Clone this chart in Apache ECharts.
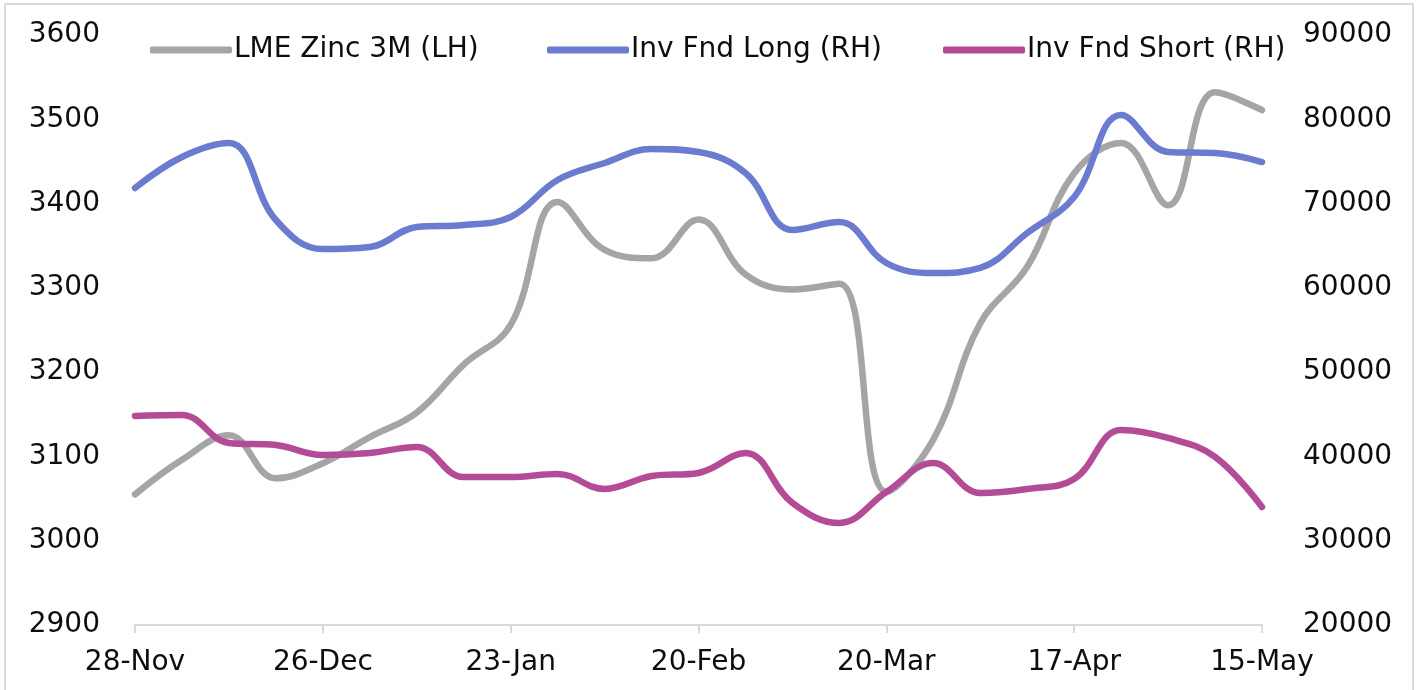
<!DOCTYPE html>
<html>
<head>
<meta charset="utf-8">
<script src="https://cdn.jsdelivr.net/npm/echarts@6/dist/echarts.min.js"></script>
<style>
  html, body { margin: 0; padding: 0; background: #ffffff; }
  #chart { width: 1422px; height: 690px; }
</style>
</head>
<body>
<div id="chart"></div>
<script>
const categories = ["28-Nov","5-Dec","12-Dec","19-Dec","26-Dec","2-Jan","9-Jan","16-Jan","23-Jan","30-Jan","6-Feb","13-Feb","20-Feb","27-Feb","6-Mar","13-Mar","20-Mar","27-Mar","3-Apr","10-Apr","17-Apr","24-Apr","1-May","8-May","15-May"];
const zinc3M = [3055,3096,3125,3074,3092,3123,3152,3209,3256,3402,3345,3335,3381,3316,3298,3305,3058,3120,3258,3325,3436,3472,3398,3532,3511];
const invFndLong = [71850,75530,77190,68050,64610,64850,67220,67460,68410,72800,74810,76480,76120,73630,66870,67810,62950,61760,62360,66510,70780,80510,76120,76000,74930];
const invFndShort = [44800,44920,41600,41360,40170,40410,41120,37560,37560,37920,36140,37680,38040,40410,34480,32100,35780,39220,35660,36140,37320,43140,42190,39950,34000];
const leftTicks = { min: 2900, max: 3600, interval: 100 };
const rightTicks = { min: 20000, max: 90000, interval: 10000 };
const names = ["LME Zinc 3M (LH)", "Inv Fnd Long (RH)", "Inv Fnd Short (RH)"];
const colors = ["#A5A5A5", "#6B7BCF", "#B34B97"];

const FONT = "DejaVu Sans";
const FS = 28;
const chart = echarts.init(document.getElementById('chart'), null, { renderer: 'canvas' });

function legendFor(i, left) {
  return {
    left: left, top: 31,
    data: [names[i]],
    icon: 'roundRect',
    itemWidth: 82, itemHeight: 7,
    itemGap: 0,
    textStyle: { fontFamily: FONT, fontSize: FS, color: '#0d0d0d', padding: [0, 0, 0, -3] },
    selectedMode: false
  };
}

const plain = v => String(v);

const option = {
  backgroundColor: '#ffffff',
  animation: false,
  graphic: [{
    type: 'rect', silent: true,
    shape: { x: 5, y: 4, width: 1408, height: 720 },
    style: { fill: 'none', stroke: '#d9d9d9', lineWidth: 2 }
  }],
  legend: [legendFor(0, 145), legendFor(1, 542), legendFor(2, 938)],
  grid: { left: 135, right: 160, top: 35, bottom: 65, containLabel: false },
  xAxis: {
    type: 'category',
    data: categories,
    boundaryGap: false,
    axisLine: { show: true, lineStyle: { color: '#d9d9d9', width: 2 } },
    axisTick: { show: true, interval: 3, length: 8, lineStyle: { color: '#d9d9d9', width: 2 } },
    axisLabel: { interval: 3, margin: 24, fontFamily: FONT, fontSize: FS, color: '#0d0d0d' },
    splitLine: { show: false }
  },
  yAxis: [{
    type: 'value',
    min: leftTicks.min, max: leftTicks.max, interval: leftTicks.interval,
    position: 'left',
    axisLine: { show: false }, axisTick: { show: false }, splitLine: { show: false },
    axisLabel: { margin: 35, fontFamily: FONT, fontSize: FS, color: '#0d0d0d', formatter: plain }
  }, {
    type: 'value',
    min: rightTicks.min, max: rightTicks.max, interval: rightTicks.interval,
    position: 'right',
    axisLine: { show: false }, axisTick: { show: false }, splitLine: { show: false },
    axisLabel: { margin: 41, fontFamily: FONT, fontSize: FS, color: '#0d0d0d', formatter: plain }
  }],
  series: [
    { name: names[0], type: 'line', yAxisIndex: 0, data: zinc3M, smooth: 0.4, showSymbol: false, symbol: 'none',
      color: colors[0], lineStyle: { width: 6.5, color: colors[0], cap: 'round', join: 'round' } },
    { name: names[1], type: 'line', yAxisIndex: 1, data: invFndLong, smooth: 0.4, showSymbol: false, symbol: 'none',
      color: colors[1], lineStyle: { width: 6.5, color: colors[1], cap: 'round', join: 'round' } },
    { name: names[2], type: 'line', yAxisIndex: 1, data: invFndShort, smooth: 0.4, showSymbol: false, symbol: 'none',
      color: colors[2], lineStyle: { width: 6.5, color: colors[2], cap: 'round', join: 'round' } }
  ]
};
chart.setOption(option);
</script>
</body>
</html>
